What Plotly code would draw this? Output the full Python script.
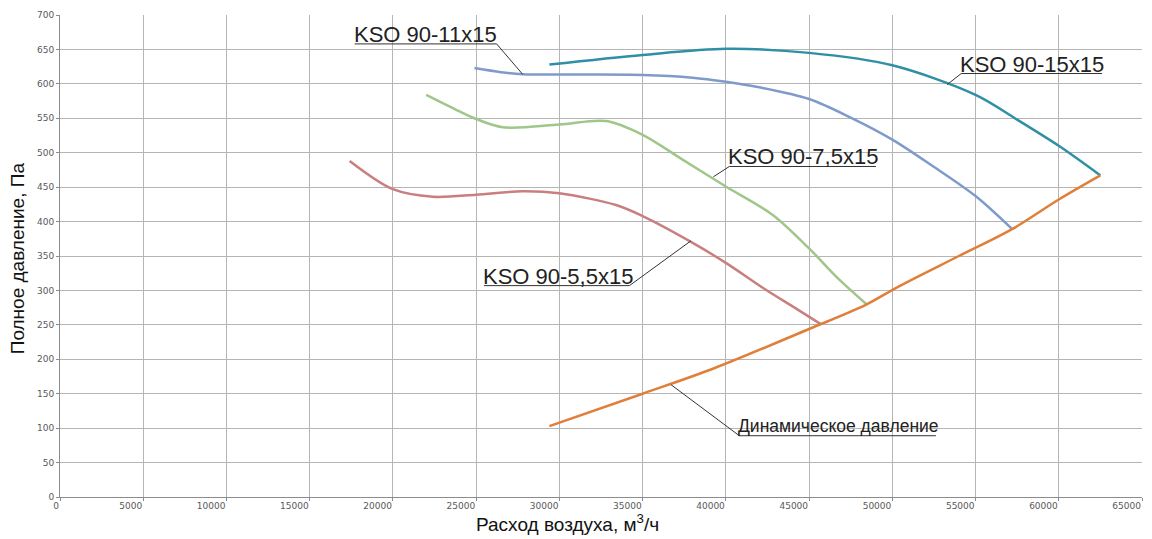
import plotly.graph_objects as go

# ---------------- data (air flow m3/h, total pressure Pa) ----------------
x_15 = [29400, 35000, 40000, 45000, 50000, 55000, 57500, 60000, 62500]
y_15 = [628, 642, 651, 645, 627, 584, 548, 510, 467]

x_11 = [24900, 26500, 27800, 30000, 35000, 38000, 40000, 42000, 45000, 47500, 50000, 52400, 55000, 57200]
y_11 = [623, 617, 614, 613.5, 613, 609, 603, 595, 578, 551, 519, 481, 437, 389]

x_75 = [22000, 24000, 25000, 26600, 30000, 32800, 35000, 37400, 40000, 42800, 45000, 46800, 48450]
y_75 = [584, 560, 549, 537, 541, 546, 526, 490, 451, 410, 361, 316, 280]

x_55 = [17400, 20000, 22400, 25000, 27800, 30000, 33400, 35000, 37800, 40000, 42400, 44200, 45700]
y_55 = [488, 447, 436, 439, 444, 441, 424, 408, 372, 340, 301, 274, 251]

x_dyn = [29400, 35000, 39300, 45000, 48400, 50400, 54000, 57200, 60000, 62500]
y_dyn = [103, 150, 187, 244, 279, 306, 350, 389, 432, 467]

series_names = ["KSO 90-15x15", "KSO 90-11x15", "KSO 90-7,5x15", "KSO 90-5,5x15", "Динамическое давление"]
series_x = [x_15, x_11, x_75, x_55, x_dyn]
series_y = [y_15, y_11, y_75, y_55, y_dyn]
series_colors = ["#2f90a5", "#7f9bcb", "#a0c68a", "#c97f7f", "#e07f3a"]

# label annotations: underline start x, end x, y ; leader end point on the curve
label_text = ["KSO 90-11x15", "KSO 90-15x15", "KSO 90-7,5x15", "KSO 90-5,5x15", "Динамическое давление"]
label_x0 = [17700, 54140, 40210, 25470, 40810]
label_x1 = [26230, 62600, 49020, 34210, 52620]
label_y = [658, 615, 480, 307, 89]
leader_x = [27790, 53300, 39250, 37900, 36710]
leader_y = [614, 599, 465, 372, 163]
label_size = [22, 22, 22, 22, 17.5]

x_ticks = list(range(0, 65001, 5000))
y_ticks = list(range(0, 701, 50))

x_title = "Расход воздуха, м<sup>3</sup>/ч"
y_title = "Полное давление, Па"

fig = go.Figure()
for nm, xs, ys, c in zip(series_names, series_x, series_y, series_colors):
    fig.add_trace(go.Scatter(x=xs, y=ys, mode="lines", name=nm,
                             line=dict(color=c, width=2.5, shape="spline", smoothing=0.9),
                             hoverinfo="skip"))

shapes = []
annotations = []
for t, x0, x1, y, lx, ly, fs in zip(label_text, label_x0, label_x1, label_y, leader_x, leader_y, label_size):
    shapes.append(dict(type="line", xref="x", yref="y", x0=x0, x1=x1, y0=y, y1=y,
                       line=dict(color="#333333", width=1)))
    sx = x1 if abs(lx - x1) < abs(lx - x0) else x0
    shapes.append(dict(type="line", xref="x", yref="y", x0=sx, x1=lx, y0=y, y1=ly,
                       line=dict(color="#333333", width=1)))
    annotations.append(dict(text=t, x=x0, y=y, xref="x", yref="y", xanchor="left", yanchor="bottom",
                            showarrow=False, xshift=-3, yshift=(-5 if fs > 20 else -2),
                            font=dict(family="Liberation Sans, Arial, sans-serif", size=fs, color="#222222")))

title_font = dict(family="Liberation Sans, Arial, sans-serif", size=19, color="#111111")
annotations.append(dict(text=x_title, xref="paper", yref="paper", x=0.4695, y=-0.054,
                        xanchor="center", yanchor="middle", showarrow=False, font=title_font))
annotations.append(dict(text=y_title, xref="paper", yref="paper", x=-0.0385, y=0.496,
                        xanchor="center", yanchor="middle", textangle=-90, showarrow=False, font=title_font))

grid_col = "#b5b5b5"
fig.update_layout(
    width=1152, height=539,
    margin=dict(l=60, r=10, t=15, b=42),
    paper_bgcolor="white", plot_bgcolor="white",
    showlegend=False,
    shapes=shapes, annotations=annotations,
    xaxis=dict(range=[0, 65000], tickvals=x_ticks, ticktext=[str(v) for v in x_ticks],
               showgrid=True, gridcolor=grid_col, gridwidth=1,
               showline=True, linecolor="#8c8c8c", linewidth=1,
               ticks="outside", ticklen=3, tickcolor="#8c8c8c",
               ticklabelposition="outside left",
               tickfont=dict(family="DejaVu Sans", size=9, color="#595959"),
               zeroline=False),
    yaxis=dict(range=[0, 700], tickvals=y_ticks, ticktext=[str(v) for v in y_ticks],
               showgrid=True, gridcolor=grid_col, gridwidth=1,
               showline=True, linecolor="#8c8c8c", linewidth=1,
               ticks="outside", ticklen=3, tickcolor="#8c8c8c",
               tickfont=dict(family="DejaVu Sans", size=9, color="#595959"),
               zeroline=False),
)
fig.write_html("out.html", config={"displayModeBar": False})
